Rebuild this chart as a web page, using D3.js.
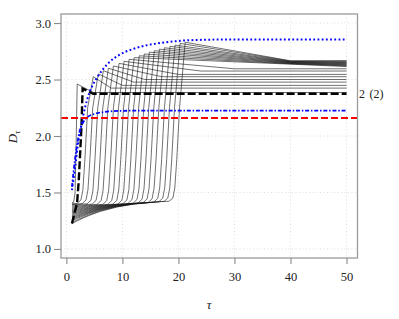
<!DOCTYPE html>
<html><head><meta charset="utf-8">
<script src="https://cdn.jsdelivr.net/npm/d3@7"></script>
<style>body{margin:0;background:#fff}svg{display:block}svg text{font-family:'Liberation Serif','DejaVu Serif',serif}</style>
</head><body>
<svg id="c" width="399" height="319"></svg>
<script>
const tauTicks = [0, 10, 20, 30, 40, 50];
const dTicks = [1.0, 1.5, 2.0, 2.5, 3.0];
const xLabel = "τ";
const refLevel = 2.16;
const boldLabelA = "2", boldLabelB = "(2)";

// thin curves: [tau, D]
const thin01 = [[1,1.41],[1.3,1.412],[1.55,1.5],[1.75,1.95],[1.93,2.46],[4.8,2.385],[50,2.385]];
const thin02 = [[1,1.40],[1.9,1.402],[2.6,1.434],[2.95,1.525],[3.3,1.79],[3.8,2.25],[4.8,2.525],[8,2.424],[50,2.424]];
const thin03 = [[1,1.395],[2,1.398],[2.8,1.401],[3.5,1.433],[3.85,1.523],[4.2,1.79],[4.7,2.25],[5.7,2.55],[10,2.448],[50,2.448]];
const thin04 = [[1,1.39],[2,1.394],[3,1.398],[3.7,1.40],[4.4,1.432],[4.75,1.523],[5.1,1.79],[5.6,2.25],[6.6,2.578],[12,2.477],[50,2.477]];
const thin05 = [[1,1.38],[2,1.385],[3,1.39],[4,1.394],[4.6,1.397],[5.3,1.43],[5.65,1.521],[6.0,1.79],[6.5,2.25],[7.5,2.60],[14,2.50],[50,2.50]];
const thin06 = [[1,1.37],[2,1.377],[3,1.383],[4,1.388],[5.5,1.395],[6.2,1.428],[6.55,1.52],[6.9,1.79],[7.4,2.25],[8.4,2.62],[17,2.525],[50,2.525]];
const thin07 = [[1,1.36],[2,1.368],[3,1.375],[4,1.382],[6,1.393],[6.5,1.395],[7.2,1.428],[7.55,1.52],[7.9,1.79],[8.4,2.25],[9.4,2.643],[20,2.545],[50,2.545]];
const thin08 = [[1,1.35],[2,1.359],[3,1.368],[4,1.375],[6,1.388],[7.4,1.395],[8.1,1.429],[8.45,1.52],[8.8,1.79],[9.3,2.25],[10.3,2.661],[24,2.575],[50,2.575]];
const thin09 = [[1,1.34],[2,1.35],[3,1.36],[4,1.369],[6,1.384],[8.3,1.397],[9.0,1.43],[9.35,1.522],[9.7,1.79],[10.2,2.25],[11.2,2.679],[30,2.595],[50,2.595]];
const thin10 = [[1,1.33],[2,1.342],[3,1.353],[4,1.362],[6,1.38],[9.2,1.398],[9.9,1.432],[10.25,1.523],[10.6,1.79],[11.1,2.25],[12.1,2.694],[40,2.636],[50,2.615]];
const thin11 = [[1,1.32],[2,1.333],[3,1.345],[4,1.356],[6,1.375],[9,1.395],[10.1,1.40],[10.8,1.434],[11.15,1.525],[11.5,1.79],[12.0,2.25],[13.0,2.71],[40,2.639],[50,2.62]];
const thin12 = [[1,1.31],[2,1.324],[3,1.338],[4,1.35],[6,1.371],[9,1.393],[11,1.403],[11.7,1.436],[12.05,1.527],[12.4,1.79],[12.9,2.25],[13.9,2.726],[40,2.642],[50,2.625]];
const thin13 = [[1,1.30],[2,1.316],[3,1.33],[4,1.343],[6,1.366],[9,1.39],[11.9,1.405],[12.6,1.438],[12.95,1.529],[13.3,1.79],[13.8,2.25],[14.8,2.742],[40,2.645],[50,2.63]];
const thin14 = [[1,1.29],[2,1.307],[3,1.323],[4,1.337],[6,1.362],[9,1.388],[12,1.404],[12.8,1.408],[13.5,1.44],[13.85,1.531],[14.2,1.79],[14.7,2.25],[15.7,2.755],[40,2.648],[50,2.635]];
const thin15 = [[1,1.28],[2,1.298],[3,1.315],[4,1.33],[6,1.357],[9,1.385],[12,1.403],[13.7,1.41],[14.4,1.442],[14.75,1.533],[15.1,1.79],[15.6,2.25],[16.6,2.769],[40,2.651],[50,2.64]];
const thin16 = [[1,1.27],[2,1.29],[3,1.308],[4,1.324],[6,1.353],[9,1.383],[12,1.402],[14.6,1.412],[15.3,1.444],[15.65,1.535],[16.0,1.79],[16.5,2.25],[17.5,2.781],[40,2.654],[50,2.645]];
const thin17 = [[1,1.26],[2,1.281],[3,1.30],[4,1.318],[6,1.348],[9,1.38],[12,1.401],[15,1.413],[15.6,1.415],[16.3,1.448],[16.65,1.539],[17.0,1.79],[17.5,2.25],[18.5,2.794],[40,2.657],[50,2.65]];
const thin18 = [[1,1.25],[2,1.272],[3,1.292],[4,1.311],[6,1.343],[9,1.378],[12,1.40],[15,1.412],[16.5,1.418],[17.2,1.45],[17.55,1.54],[17.9,1.79],[18.4,2.25],[19.4,2.805],[40,2.66],[50,2.655]];
const thin19 = [[1,1.235],[2,1.259],[3,1.281],[4,1.302],[6,1.337],[9,1.374],[12,1.398],[15,1.412],[17,1.42],[17.4,1.42],[18.1,1.45],[18.45,1.54],[18.8,1.79],[19.3,2.25],[20.3,2.82],[40,2.663],[50,2.66]];
const thin20 = [[1,1.225],[2,1.25],[3,1.274],[4,1.295],[6,1.332],[9,1.371],[12,1.397],[15,1.411],[17,1.42],[18.3,1.422],[19.0,1.45],[19.35,1.54],[19.7,1.79],[20.2,2.25],[21.2,2.83],[40,2.666],[50,2.668]];
const thinCurves = [thin01,thin02,thin03,thin04,thin05,thin06,thin07,thin08,thin09,thin10,
                    thin11,thin12,thin13,thin14,thin15,thin16,thin17,thin18,thin19,thin20];

const boldCurve = [[1,1.225],[1.5,1.33],[1.9,1.40],[2.2,1.6],[2.4,1.79],[2.7,2.09],[2.9,2.42],[4.8,2.374],[50,2.374]];
const blueDotted = [[1,1.52],[1.5,1.70],[2,1.90],[2.5,2.05],[3,2.18],[3.7,2.32],[4.5,2.43],[5.4,2.51],[6.5,2.59],[7.8,2.66],[9.5,2.72],[11.9,2.77],[14.5,2.805],[17.9,2.83],[21,2.845],[25,2.852],[30,2.855],[50,2.855]];
const blueDotDash = [[1,1.55],[1.5,1.78],[2,1.95],[2.4,2.05],[3,2.12],[3.7,2.165],[5,2.195],[6.5,2.21],[8.4,2.22],[12,2.224],[50,2.225]];

const svg = d3.select("#c");
const L = 61, R = 357.5, T = 14, B = 258;
const x = d3.scaleLinear().domain([-0.96, 51.96]).range([L, R]);
const y = d3.scaleLinear().domain([0.92, 3.08]).range([B, T]);
const font = "'Liberation Serif','DejaVu Serif',serif";

svg.append("defs").append("clipPath").attr("id","clip")
  .append("rect").attr("x",L).attr("y",T).attr("width",R-L).attr("height",B-T);

// grid
const g = svg.append("g");
g.selectAll(".gx").data(tauTicks).enter().append("line")
  .attr("x1",d=>x(d)).attr("x2",d=>x(d)).attr("y1",T).attr("y2",B)
  .attr("stroke","#d3d3d3").attr("stroke-width",0.8).attr("stroke-dasharray","1,2.5");
g.selectAll(".gy").data(dTicks).enter().append("line")
  .attr("y1",d=>y(d)).attr("y2",d=>y(d)).attr("x1",L).attr("x2",R)
  .attr("stroke","#d3d3d3").attr("stroke-width",0.8).attr("stroke-dasharray","1,2.5");

const line = d3.line().x(d=>x(d[0])).y(d=>y(d[1]));
const plot = svg.append("g").attr("clip-path","url(#clip)");
plot.selectAll(".thin").data(thinCurves).enter().append("path")
  .attr("d",line).attr("fill","none").attr("stroke","#111").attr("stroke-width",0.6)
  .attr("stroke-linejoin","round");
plot.append("path").datum(boldCurve).attr("d",line).attr("fill","none")
  .attr("stroke","#000").attr("stroke-width",2.4).attr("stroke-dasharray","8,3");
plot.append("path").datum(blueDotted).attr("d",d3.line().x(d=>x(d[0])).y(d=>y(d[1])).curve(d3.curveMonotoneX))
  .attr("fill","none").attr("stroke","#0000ff").attr("stroke-width",2).attr("stroke-dasharray","1.8,2.4");
plot.append("path").datum(blueDotDash).attr("d",d3.line().x(d=>x(d[0])).y(d=>y(d[1])).curve(d3.curveMonotoneX))
  .attr("fill","none").attr("stroke","#0000ff").attr("stroke-width",1.8).attr("stroke-dasharray","4,1.8,1.5,1.8");
plot.append("line").attr("x1",L).attr("x2",R).attr("y1",y(refLevel)).attr("y2",y(refLevel))
  .attr("stroke","#ff0000").attr("stroke-width",2).attr("stroke-dasharray","7,3");

// box
svg.append("rect").attr("x",L).attr("y",T).attr("width",R-L).attr("height",B-T)
  .attr("fill","none").attr("stroke","#9a9a9a").attr("stroke-width",1.3);

// axes
const ax = svg.append("g").attr("transform",`translate(0,${B})`)
  .call(d3.axisBottom(x).tickValues(tauTicks).tickFormat(d3.format("d")).tickSize(6).tickSizeOuter(0).tickPadding(8));
const ay = svg.append("g").attr("transform",`translate(${L},0)`)
  .call(d3.axisLeft(y).tickValues(dTicks).tickFormat(d3.format(".1f")).tickSize(7).tickSizeOuter(0).tickPadding(3));
[ax, ay].forEach(a => {
  a.attr("font-family", font);
  a.select(".domain").remove();
  a.selectAll(".tick line").attr("stroke","#8a8a8a").attr("stroke-width",1.1);
  a.selectAll("text").style("font-family",font).attr("font-size",12.5).attr("fill","#222");
});

svg.append("text").attr("x",209).attr("y",309).attr("text-anchor","middle")
  .style("font-family",font).attr("font-style","italic").attr("font-size",13).attr("fill","#222").text(xLabel);
const yl = svg.append("text").attr("transform","translate(17,137) rotate(-90)").attr("text-anchor","middle")
  .style("font-family",font).attr("font-size",13).attr("fill","#222");
yl.append("tspan").attr("font-style","italic").text("D");
yl.append("tspan").attr("font-style","italic").attr("font-size",9).attr("dy",3).text("τ");

svg.append("text").attr("x",359).attr("y",y(2.374)+4).style("font-family",font).attr("font-size",12)
  .attr("fill","#222").text(boldLabelA);
svg.append("text").attr("x",369.5).attr("y",y(2.374)+4).style("font-family",font).attr("font-size",12)
  .attr("fill","#222").text(boldLabelB);
</script>
</body></html>
